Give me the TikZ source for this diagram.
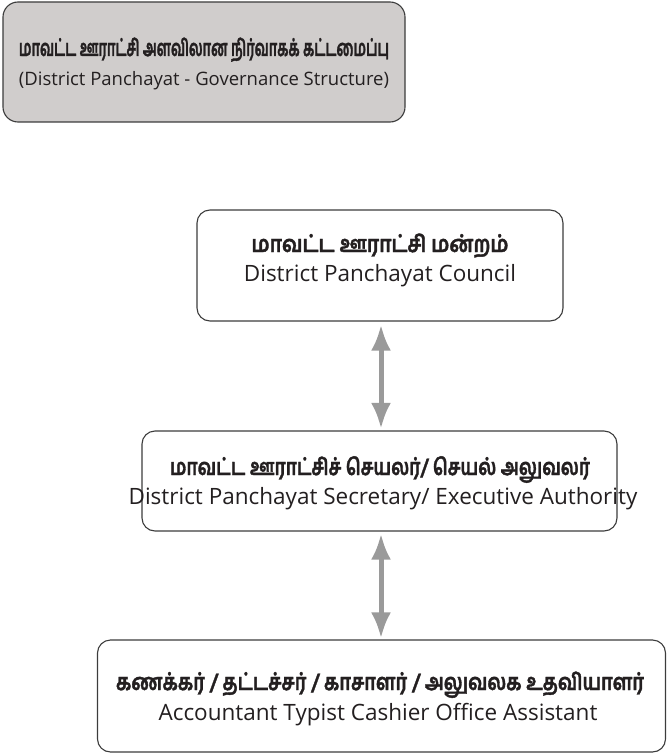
\documentclass[tikz,border=0pt]{standalone}
\usepackage{fontspec}
\setmainfont{Open Sans}
\newfontfamily\tamilfont[Script=Tamil, BoldFeatures={FakeBold=1.8}]{Hind Madurai}
\usetikzlibrary{arrows.meta}
\definecolor{titlefill}{RGB}{208,205,204}
\definecolor{boxline}{RGB}{60,60,60}
\definecolor{arrowgray}{RGB}{154,154,154}
\definecolor{textcol}{RGB}{35,31,32}
\newcommand{\tamw}[2]{\resizebox{#1pt}{\height}{\tamilfont\bfseries\fontsize{23}{27}\selectfont #2}}
\begin{document}
\begin{tikzpicture}[x=1pt,y=-1pt,
  boxshape/.style={draw=boxline, line width=1.1pt, rounded corners=13pt, inner sep=0pt},
  tamline/.style={anchor=base, inner sep=0pt, text=textcol},
  engline/.style={anchor=base, inner sep=0pt, text=textcol, font=\fontsize{22.5}{27}\selectfont},
  garrow/.style={draw=arrowgray, line width=5pt,
    {Latex[length=26pt,width=20pt]}-{Latex[length=26pt,width=20pt]}}
]
\useasboundingbox (0,0) rectangle (667,754);
% boxes
\node[boxshape, fill=titlefill, rounded corners=15pt, minimum width=402pt, minimum height=120pt] (title) at (204,62) {};
\node[boxshape, minimum width=366pt, minimum height=111pt] (council) at (380,265.5) {};
\node[boxshape, minimum width=475pt, minimum height=100pt] (secretary) at (379.5,481) {};
\node[boxshape, minimum width=568pt, minimum height=112pt] (staff) at (381.5,696) {};
% texts
\node[tamline] (titleta) at (204,56) {\tamw{370}{மாவட்ட ஊராட்சி அளவிலான நிர்வாகக் கட்டமைப்பு}};
\node[engline, font=\fontsize{18.5}{22}\selectfont] (titleen) at (204,86) {(District Panchayat - Governance Structure)};
\node[tamline] (councilta) at (380,252) {\tamw{257}{மாவட்ட ஊராட்சி மன்றம்}};
\node[engline] (councilen) at (380,281) {District Panchayat Council};
\node[tamline] (secta) at (380,475) {\tamw{420}{மாவட்ட ஊராட்சிச் செயலர்/ செயல் அலுவலர்}};
\node[engline] (secen) at (383,504) {District Panchayat Secretary/ Executive Authority};
\node[tamline] (staffta) at (380,690) {\tamw{528}{கணக்கர் / தட்டச்சர் / காசாளர் / அலுவலக உதவியாளர்}};
\node[engline] (staffen) at (378,720) {Accountant Typist Cashier Office Assistant};
% connectors
\draw[garrow, shorten <=3pt, shorten >=1.5pt] (council.south -| 381,0) -- (secretary.north -| 381,0);
\draw[garrow, shorten <=2pt, shorten >=1pt] (secretary.south -| 381,0) -- (staff.north -| 381,0);
\end{tikzpicture}
\end{document}
